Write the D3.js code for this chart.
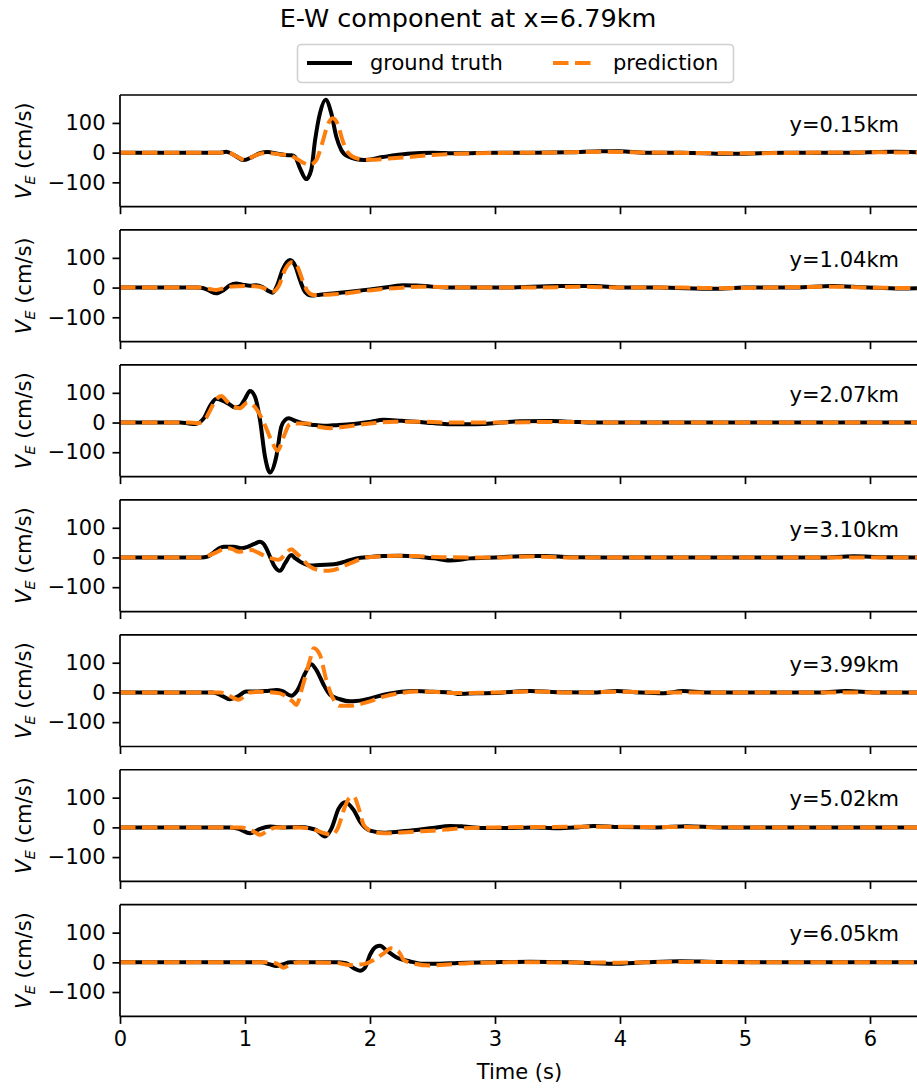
<!DOCTYPE html>
<html><head><meta charset="utf-8">
<script src="https://cdn.jsdelivr.net/npm/d3@7"></script>
<style>body{margin:0;background:#fff}svg{display:block;font-family:"DejaVu Sans",sans-serif}</style>
</head><body><svg id="c" width="917" height="1088"></svg>
<script>
const titleText = "E-W component at x=6.79km";
const seriesNames = ["ground truth", "prediction"];
const panelLabels = ["y=0.15km","y=1.04km","y=2.07km","y=3.10km","y=3.99km","y=5.02km","y=6.05km"];
const xTicks = [0,1,2,3,4,5,6];
const yTicks = [-100,0,100];

const truth015 = [[0,0],[0.5,0],[0.8,0],[0.85,3],[0.92,-10],[0.99,-25],[1.06,-14],[1.12,-2],[1.18,2],[1.25,-3],[1.32,-8],[1.37,-9],[1.40,-14],[1.44,-53],[1.49,-89],[1.53,-58],[1.56,40],[1.60,133],[1.645,178],[1.69,133],[1.73,54],[1.77,9],[1.82,-12],[1.95,-25],[2.1,-15],[2.3,-4],[2.5,0],[2.7,-2],[3.0,0],[3.3,0],[3.6,1],[3.85,5],[4.0,5],[4.2,0],[4.5,0],[4.85,-4],[5.05,-3],[5.3,0],[5.8,0],[6.2,3],[6.4,1]];
const pred015 = [[0,0],[0.8,0],[0.86,2],[0.93,-12],[1.0,-25],[1.07,-12],[1.14,-2],[1.2,-2],[1.28,-6],[1.35,-8],[1.42,-22],[1.47,-35],[1.52,-41],[1.57,-25],[1.62,35],[1.66,92],[1.70,116],[1.74,98],[1.78,42],[1.82,2],[1.9,-20],[2.0,-24],[2.15,-20],[2.3,-15],[2.5,-8],[2.7,-4],[3.0,-1],[3.4,0],[3.9,3],[4.1,1],[4.6,-1],[5.0,-2],[5.5,0],[6.0,1],[6.4,0]];

const truth104 = [[0,0],[0.62,0],[0.67,-2],[0.72,-12],[0.77,-19],[0.83,-8],[0.88,8],[0.93,14],[0.98,10],[1.04,6],[1.09,8],[1.14,2],[1.19,-12],[1.22,-17],[1.26,10],[1.30,60],[1.36,93],[1.40,75],[1.44,25],[1.48,-14],[1.53,-27],[1.6,-24],[1.7,-20],[1.84,-14],[2.0,-6],[2.15,2],[2.27,8],[2.4,6],[2.64,0],[2.8,0],[3.1,0],[3.5,5],[3.8,5],[4.0,0],[4.3,0],[4.75,-4],[5.0,0],[5.4,0],[5.7,5],[5.95,1],[6.25,-3],[6.4,-2]];
const pred104 = [[0,0],[0.65,0],[0.72,-5],[0.77,-8],[0.83,-2],[0.9,4],[1.0,5],[1.1,4],[1.17,-5],[1.22,-14],[1.27,5],[1.32,60],[1.38,86],[1.42,70],[1.46,25],[1.5,-12],[1.55,-25],[1.65,-24],[1.75,-22],[1.9,-14],[2.05,-7],[2.2,-2],[2.4,3],[2.6,2],[2.8,0],[3.3,0],[3.7,3],[4.0,0],[4.5,0],[4.8,-2],[5.2,0],[5.7,3],[6.0,0],[6.4,-2]];

const truth207 = [[0,0],[0.48,0],[0.55,-3],[0.6,-5],[0.67,14],[0.72,55],[0.77,80],[0.83,72],[0.88,60],[0.92,51],[0.96,55],[1.0,80],[1.04,106],[1.08,87],[1.12,9],[1.16,-115],[1.20,-168],[1.25,-115],[1.29,-14],[1.32,8],[1.35,14],[1.40,6],[1.44,0],[1.55,-8],[1.63,-11],[1.75,-8],[1.84,-6],[2.0,2],[2.11,9],[2.25,6],[2.37,3],[2.5,-2],[2.64,-6],[2.8,-6],[2.9,-5],[3.05,0],[3.2,4],[3.45,5],[3.6,3],[3.8,0],[4.5,0],[5.5,0],[6.4,0]];
const pred207 = [[0,0],[0.55,0],[0.62,-2],[0.67,5],[0.72,40],[0.77,78],[0.81,89],[0.86,70],[0.92,52],[0.96,48],[1.02,67],[1.06,60],[1.10,40],[1.15,0],[1.21,-59],[1.26,-95],[1.31,-47],[1.36,-5],[1.40,-3],[1.5,-3],[1.6,-15],[1.68,-19],[1.8,-14],[2.0,-3],[2.2,3],[2.4,3],[2.6,0],[3.0,0],[3.5,2],[4.0,0],[5.0,0],[6.4,0]];

const truth310 = [[0,0],[0.65,0],[0.7,3],[0.74,14],[0.79,30],[0.83,36],[0.91,36],[0.97,31],[1.02,36],[1.08,47],[1.12,53],[1.15,45],[1.17,31],[1.20,3],[1.23,-25],[1.28,-45],[1.32,-20],[1.37,8],[1.40,-2],[1.44,-14],[1.52,-27],[1.6,-25],[1.71,-23],[1.8,-14],[1.89,-3],[2.0,2],[2.11,5],[2.24,6],[2.4,2],[2.51,-3],[2.64,-10],[2.72,-8],[2.8,-3],[3.0,0],[3.28,5],[3.4,5],[3.6,1],[4.0,0],[5.0,0],[5.6,0],[5.87,4],[6.1,1],[6.4,0]];
const pred310 = [[0,0],[0.66,0],[0.72,8],[0.77,17],[0.85,31],[0.9,28],[0.95,19],[1.0,22],[1.05,25],[1.1,17],[1.17,3],[1.22,-4],[1.27,-8],[1.32,10],[1.37,28],[1.40,18],[1.44,3],[1.52,-31],[1.58,-42],[1.63,-45],[1.71,-42],[1.84,-20],[1.97,0],[2.1,4],[2.24,6],[2.4,4],[2.6,1],[3.0,0],[3.3,3],[3.6,0],[4.5,0],[5.5,0],[6.4,0]];

const truth399 = [[0,0],[0.74,0],[0.8,-8],[0.88,-23],[0.94,-14],[1.01,3],[1.1,3],[1.18,5],[1.25,8],[1.3,4],[1.37,-11],[1.42,8],[1.48,64],[1.53,95],[1.57,76],[1.63,25],[1.68,-8],[1.76,-23],[1.84,-30],[1.95,-25],[2.11,-8],[2.25,2],[2.37,5],[2.5,2],[2.64,0],[2.7,-5],[2.85,-3],[3.0,-2],[3.28,5],[3.5,1],[3.8,0],[3.97,5],[4.15,0],[4.35,-3],[4.5,5],[4.7,0],[5.2,0],[5.6,0],[5.81,5],[6.05,0],[6.4,0]];
const pred399 = [[0,0],[0.8,0],[0.86,-8],[0.91,-19],[0.95,-25],[1.0,-10],[1.04,0],[1.12,2],[1.2,1],[1.28,-3],[1.33,-14],[1.38,-30],[1.41,-42],[1.46,20],[1.52,110],[1.55,149],[1.60,126],[1.65,42],[1.71,-25],[1.76,-45],[1.84,-45],[1.95,-36],[2.11,-14],[2.25,-2],[2.37,3],[2.5,2],[2.7,-2],[3.0,0],[3.3,3],[3.6,0],[4.0,2],[4.4,0],[5.0,0],[6.4,0]];

const truth502 = [[0,0],[0.88,0],[0.95,-5],[1.04,-20],[1.12,-5],[1.2,3],[1.3,0],[1.44,1],[1.52,-3],[1.57,-9],[1.64,-31],[1.69,-5],[1.75,64],[1.80,85],[1.87,58],[1.92,19],[2.0,-11],[2.11,-18],[2.24,-14],[2.37,-9],[2.5,-2],[2.64,5],[2.75,3],[2.9,-2],[3.1,-2],[3.3,0],[3.5,-3],[3.65,0],[3.79,5],[4.0,1],[4.3,0],[4.53,4],[4.8,0],[5.5,0],[6.4,0]];
const pred502 = [[0,0],[0.97,0],[1.03,-8],[1.07,-14],[1.12,-25],[1.19,-9],[1.25,0],[1.44,0],[1.55,-8],[1.63,-19],[1.69,-25],[1.74,-5],[1.8,70],[1.84,101],[1.87,104],[1.91,64],[1.95,8],[2.02,-14],[2.11,-20],[2.37,-14],[2.56,-9],[2.64,-6],[2.8,-2],[3.0,0],[3.8,2],[4.5,1],[5.0,0],[6.4,0]];

const truth605 = [[0,0],[1.13,0],[1.2,-7],[1.25,-12],[1.3,-7],[1.36,0],[1.5,0],[1.73,0],[1.81,-3],[1.87,-20],[1.92,-28],[1.96,-18],[2.0,25],[2.05,53],[2.08,56],[2.13,41],[2.21,17],[2.32,3],[2.43,-5],[2.56,-5],[2.7,-2],[2.96,0],[3.28,2],[3.6,0],[3.95,-5],[4.2,0],[4.48,4],[4.8,1],[5.5,0],[6.4,0]];
const pred605 = [[0,0],[1.2,0],[1.26,-5],[1.31,-18],[1.36,-7],[1.43,0],[1.73,-2],[1.84,-9],[1.95,-6],[2.03,8],[2.11,30],[2.17,47],[2.23,36],[2.27,8],[2.33,-2],[2.48,-11],[2.56,-9],[2.7,-5],[2.9,-1],[3.2,0],[4.0,-1],[4.5,1],[5.5,0],[6.4,0]];

const truthSeries = [truth015, truth104, truth207, truth310, truth399, truth502, truth605];
const predSeries = [pred015, pred104, pred207, pred310, pred399, pred502, pred605];

const svg = d3.select("#c");
const left = 120, right = 920;
const top0 = 95, panelH = 111.7, pitch = 134.95;
const FS = 21;
const x = d3.scaleLinear().domain([0, 6.4]).range([left, right]);

svg.append("text").attr("x", 468).attr("y", 27).attr("text-anchor", "middle")
  .attr("font-size", 25.5).attr("fill", "#000").text(titleText);

// legend
const lg = svg.append("g");
lg.append("rect").attr("x", 297.5).attr("y", 44.5).attr("width", 436).attr("height", 38).attr("rx", 4)
  .attr("fill", "#fff").attr("fill-opacity", 0.8).attr("stroke", "#d0d0d0").attr("stroke-width", 1.6);
lg.append("line").attr("x1", 307).attr("x2", 352).attr("y1", 63).attr("y2", 63)
  .attr("stroke", "#000").attr("stroke-width", 4);
lg.append("text").attr("x", 370).attr("y", 70).attr("font-size", FS).text(seriesNames[0]);
lg.append("line").attr("x1", 553).attr("x2", 597).attr("y1", 63).attr("y2", 63)
  .attr("stroke", "#ff7f0e").attr("stroke-width", 4).attr("stroke-dasharray", "15.5,6.5");
lg.append("text").attr("x", 613).attr("y", 70).attr("font-size", FS).text(seriesNames[1]);

const defs = svg.append("defs");

truthSeries.forEach((tr, i) => {
  const top = top0 + i * pitch;
  const bot = top + panelH;
  const y = d3.scaleLinear().domain([-182, 194]).range([bot, top]);
  const g = svg.append("g");
  defs.append("clipPath").attr("id", "clip" + i).append("rect")
    .attr("x", left).attr("y", top).attr("width", right - left).attr("height", panelH);

  const line = d3.line().x(d => x(d[0])).y(d => y(d[1])).curve(d3.curveMonotoneX);
  const pg = g.append("g").attr("clip-path", `url(#clip${i})`);
  pg.append("path").attr("d", line(tr)).attr("fill", "none").attr("stroke", "#000")
    .attr("stroke-width", 4).attr("stroke-linejoin", "round");
  pg.append("path").attr("d", line(predSeries[i])).attr("fill", "none").attr("stroke", "#ff7f0e")
    .attr("stroke-width", 4).attr("stroke-dasharray", "15.5,6.5");

  // axes
  const ya = g.append("g").attr("transform", `translate(${left},0)`)
    .call(d3.axisLeft(y).tickValues(yTicks).tickSize(7.5).tickPadding(7).tickFormat(d3.format("d")));
  const xa = g.append("g").attr("transform", `translate(0,${bot})`)
    .call(d3.axisBottom(x).tickValues(xTicks).tickSize(7.5).tickPadding(7)
      .tickFormat(i === truthSeries.length - 1 ? d3.format("d") : () => ""));
  [ya, xa].forEach(a => {
    a.select(".domain").remove();
    a.selectAll(".tick line").attr("stroke", "#000").attr("stroke-width", 1.7);
    a.selectAll(".tick text").attr("font-size", FS).attr("font-family", "DejaVu Sans").attr("fill", "#000");
  });
  // spines
  g.append("line").attr("x1", left).attr("x2", right).attr("y1", top).attr("y2", top).attr("stroke", "#000").attr("stroke-width", 1.7);
  g.append("line").attr("x1", left).attr("x2", right).attr("y1", bot).attr("y2", bot).attr("stroke", "#000").attr("stroke-width", 1.7);
  g.append("line").attr("x1", left).attr("x2", left).attr("y1", top).attr("y2", bot).attr("stroke", "#000").attr("stroke-width", 1.7);
  g.append("line").attr("x1", right).attr("x2", right).attr("y1", top).attr("y2", bot).attr("stroke", "#000").attr("stroke-width", 1.7);

  g.append("text").attr("x", 899).attr("y", top + 36.7).attr("text-anchor", "end")
    .attr("font-size", FS).text(panelLabels[i]);

  const yl = g.append("text").attr("transform", `translate(31,${(top + bot) / 2}) rotate(-90)`)
    .attr("text-anchor", "middle").attr("font-size", FS);
  yl.append("tspan").attr("font-style", "italic").text("V");
  yl.append("tspan").attr("font-style", "italic").attr("font-size", FS * 0.7).attr("dy", 4).text("E");
  yl.append("tspan").attr("dy", -4).text(" (cm/s)");
});

svg.append("text").attr("x", 519.5).attr("y", 1079).attr("text-anchor", "middle")
  .attr("font-size", FS).text("Time (s)");
</script></body></html>
